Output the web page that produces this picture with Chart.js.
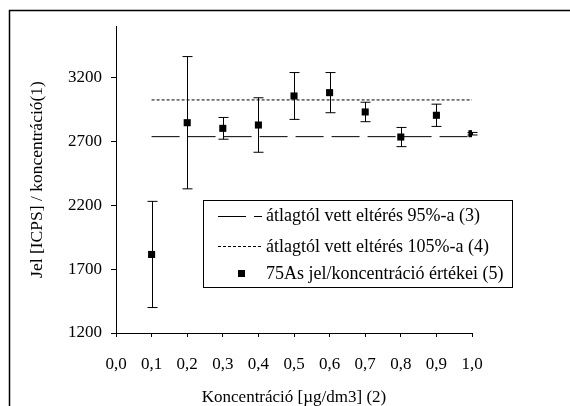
<!DOCTYPE html>
<html>
<head>
<meta charset="utf-8">
<script src="https://cdn.jsdelivr.net/npm/chart.js@4"></script>
<style>
  body { margin: 0; background: #fff; }
  canvas { display: block; }
</style>
</head>
<body>
<canvas id="chart" width="570" height="406"></canvas>
<script>
// Chart data
const concentrations = [0.1, 0.2, 0.3, 0.4, 0.5, 0.6, 0.7, 0.8, 0.9, 1.0];
const ratioValues = [1814, 2844, 2800, 2826, 3053, 3079, 2928, 2732, 2902, 2758];
const ratioErrors = [415, 517, 85, 213, 183, 157, 76, 75, 87, 10];
const lowerLimit = [2735, 2735];   // 95% of mean
const upperLimit = [3022, 3022];   // 105% of mean
const limitRange = [0.1, 1.0];

const xTickValues = [0, 0.1, 0.2, 0.3, 0.4, 0.5, 0.6, 0.7, 0.8, 0.9, 1.0];
const xTickLabels = ['0,0', '0,1', '0,2', '0,3', '0,4', '0,5', '0,6', '0,7', '0,8', '0,9', '1,0'];
const yTickValues = [1200, 1700, 2200, 2700, 3200];
const yTickLabels = ['1200', '1700', '2200', '2700', '3200'];

const legendLabels = [
    'átlagtól vett eltérés 95%-a (3)',
    'átlagtól vett eltérés 105%-a (4)',
    '75As jel/koncentráció értékei (5)'
];

const FONT = '"Liberation Serif", "Times New Roman", serif';
const LONG_DASH = [28, 8];
const SHORT_DASH = [3, 2];

// outer frame (only top and left edges are visible)
const framePlugin = {
    id: 'frame',
    beforeDraw(chart) {
        const ctx = chart.ctx;
        ctx.save();
        ctx.strokeStyle = '#000';
        ctx.lineWidth = 1.5;
        ctx.beginPath();
        ctx.moveTo(9.5, 406);
        ctx.lineTo(9.5, 10.5);
        ctx.lineTo(570, 10.5);
        ctx.stroke();
        ctx.restore();
    }
};

// vertical error bars with caps
const errorBarPlugin = {
    id: 'errorBars',
    beforeDatasetsDraw(chart) {
        const ctx = chart.ctx;
        const xs = chart.scales.x;
        const ys = chart.scales.y;
        ctx.save();
        ctx.strokeStyle = '#000';
        ctx.lineWidth = 1;
        concentrations.forEach((c, i) => {
            const x = Math.round(xs.getPixelForValue(c)) + 0.5;
            const top = ys.getPixelForValue(ratioValues[i] + ratioErrors[i]);
            const bot = ys.getPixelForValue(ratioValues[i] - ratioErrors[i]);
            ctx.beginPath();
            ctx.moveTo(x, top);
            ctx.lineTo(x, bot);
            ctx.moveTo(x - 5, top);
            ctx.lineTo(x + 5, top);
            ctx.moveTo(x - 5, bot);
            ctx.lineTo(x + 5, bot);
            ctx.stroke();
        });
        ctx.restore();
    }
};

// boxed legend inside the plot
const boxLegendPlugin = {
    id: 'boxLegend',
    afterDraw(chart) {
        const ctx = chart.ctx;
        const box = { left: 203, top: 200, width: 309, height: 87 };
        const rows = [215, 246, 273];
        ctx.save();
        ctx.fillStyle = '#fff';
        ctx.fillRect(box.left, box.top, box.width, box.height);
        ctx.strokeStyle = '#000';
        ctx.lineWidth = 1;
        ctx.strokeRect(box.left + 0.5, box.top + 0.5, box.width, box.height);

        // symbols
        ctx.beginPath();
        ctx.setLineDash(LONG_DASH);
        ctx.moveTo(218, rows[0] + 1.5);
        ctx.lineTo(262, rows[0] + 1.5);
        ctx.stroke();
        ctx.beginPath();
        ctx.setLineDash(SHORT_DASH);
        ctx.moveTo(218, rows[1] + 0.5);
        ctx.lineTo(262, rows[1] + 0.5);
        ctx.stroke();
        ctx.setLineDash([]);
        ctx.fillStyle = '#000';
        ctx.fillRect(238, rows[2] - 3, 7, 7);

        // labels
        ctx.font = '18px ' + FONT;
        ctx.textBaseline = 'middle';
        ctx.textAlign = 'left';
        legendLabels.forEach((t, i) => ctx.fillText(t, 266, rows[i] + 1));
        ctx.restore();
    }
};

new Chart(document.getElementById('chart'), {
    type: 'scatter',
    data: {
        datasets: [
            {
                label: legendLabels[0],
                type: 'line',
                data: limitRange.map((x, i) => ({ x: x, y: lowerLimit[i] })),
                borderColor: '#000',
                borderWidth: 1,
                borderDash: LONG_DASH,
                pointRadius: 0,
                fill: false
            },
            {
                label: legendLabels[1],
                type: 'line',
                data: limitRange.map((x, i) => ({ x: x, y: upperLimit[i] })),
                borderColor: '#000',
                borderWidth: 1,
                borderDash: SHORT_DASH,
                pointRadius: 0,
                fill: false
            },
            {
                label: legendLabels[2],
                data: concentrations.map((x, i) => ({ x: x, y: ratioValues[i] })),
                pointStyle: 'rect',
                pointRadius: 5,
                backgroundColor: '#000',
                borderColor: '#000',
                borderWidth: 0
            }
        ]
    },
    options: {
        responsive: false,
        animation: false,
        layout: {
            padding: { left: 0, top: 26, right: 98, bottom: 0 }
        },
        plugins: {
            legend: { display: false },
            tooltip: { enabled: false }
        },
        scales: {
            x: {
                type: 'linear',
                min: 0,
                max: 1,
                afterFit: s => { s.height = 73; },
                afterBuildTicks: s => { s.ticks = xTickValues.map(v => ({ value: v })); },
                border: { color: '#000', width: 1 },
                grid: { drawOnChartArea: false, color: '#000', tickLength: 4 },
                ticks: {
                    color: '#000',
                    padding: 17,
                    maxRotation: 0,
                    autoSkip: false,
                    font: { family: FONT, size: 17 },
                    callback: (v, i) => xTickLabels[i]
                },
                title: {
                    display: true,
                    text: 'Koncentráció [µg/dm3] (2)',
                    color: '#000',
                    padding: { top: 0, bottom: 0 },
                    font: { family: FONT, size: 17, lineHeight: 1 }
                }
            },
            y: {
                type: 'linear',
                min: 1200,
                max: 3600,
                afterFit: s => { s.width = 116; },
                afterBuildTicks: s => { s.ticks = yTickValues.map(v => ({ value: v })); },
                border: { color: '#000', width: 1 },
                grid: { drawOnChartArea: false, color: '#000', tickLength: 5 },
                ticks: {
                    color: '#000',
                    padding: 9,
                    font: { family: FONT, size: 17 },
                    callback: (v, i) => yTickLabels[i]
                },
                title: {
                    display: true,
                    text: 'Jel [ICPS] / koncentráció(1)',
                    color: '#000',
                    padding: { top: 27, bottom: 0 },
                    font: { family: FONT, size: 17.5 }
                }
            }
        }
    },
    plugins: [framePlugin, errorBarPlugin, boxLegendPlugin]
});
</script>
</body>
</html>
